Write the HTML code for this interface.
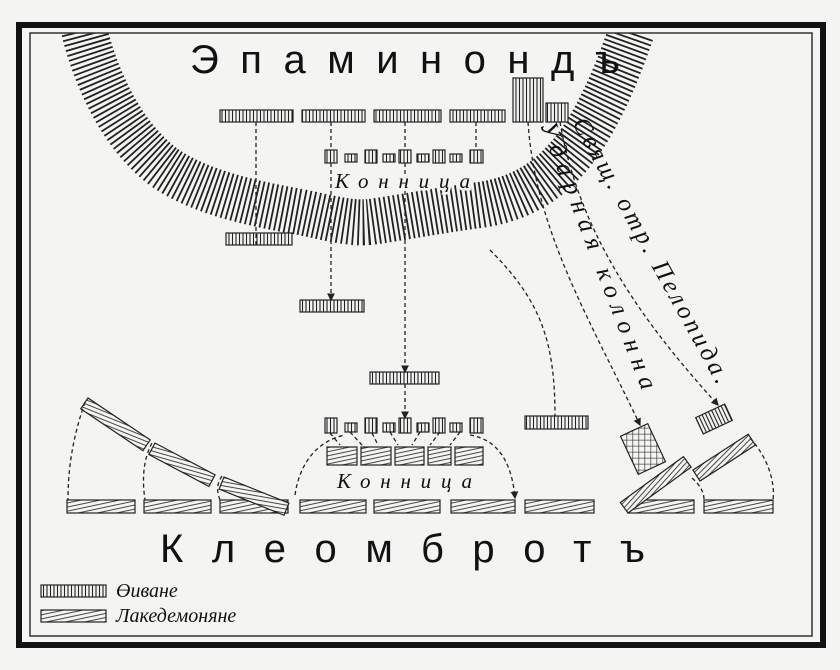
<!DOCTYPE html>
<html><head><meta charset="utf-8"><style>
html,body{margin:0;padding:0;background:#f4f4f2;}
svg{display:block}
text{font-family:"Liberation Sans","DejaVu Sans",sans-serif;fill:#111}
.it{font-family:"Liberation Serif","DejaVu Serif",serif;font-style:italic}
</style></head><body>
<svg width="840" height="670" viewBox="0 0 840 670" xmlns="http://www.w3.org/2000/svg">
<defs>
<pattern id="th" width="3.5" height="10" patternUnits="userSpaceOnUse"><rect width="3.5" height="10" fill="#f4f4f2"/><line x1="1.5" y1="0" x2="1.5" y2="10" stroke="#222" stroke-width="1.1"/></pattern>
<pattern id="sp" width="12" height="4" patternUnits="userSpaceOnUse" patternTransform="rotate(-12)"><rect width="12" height="4" fill="#f4f4f2"/><line x1="0" y1="2" x2="12" y2="2" stroke="#333" stroke-width="0.9"/></pattern>
<pattern id="grid" width="6" height="6" patternUnits="userSpaceOnUse" patternTransform="rotate(25)"><rect width="6" height="6" fill="#f4f4f2"/><path d="M0 0H6M0 0V6" stroke="#222" stroke-width="1.2"/></pattern>
<marker id="ar" markerWidth="6" markerHeight="6" refX="5" refY="3" orient="auto"><path d="M0,0 L6,3 L0,6 z" fill="#222"/></marker>
</defs>
<rect x="0" y="0" width="840" height="670" fill="#f4f4f2"/>
<!-- river -->
<path d="M84,30 C95,75 120,135 165,168 C200,192 250,203 300,212 C330,218 350,224 370,222 C400,218 440,210 480,205 C515,200 545,185 570,155 C595,125 615,80 632,30" fill="none" stroke="#222" stroke-width="46" stroke-dasharray="1.8 3"/>
<rect x="0" y="0" width="840" height="33" fill="#f4f4f2"/>
<rect x="19" y="25" width="804" height="620" fill="none" stroke="#111" stroke-width="6"/>
<rect x="30" y="33" width="782" height="603" fill="none" stroke="#333" stroke-width="1.5"/>
<text x="190" y="73" font-size="40" textLength="430" lengthAdjust="spacing">Эпаминондъ</text>
<text x="160" y="562" font-size="40" textLength="485" lengthAdjust="spacing">Клеомбротъ</text>
<!-- Theban units -->
<g fill="url(#th)" stroke="#222" stroke-width="1.2">
<rect x="220" y="110" width="73" height="12"/><rect x="302" y="110" width="63" height="12"/><rect x="374" y="110" width="67" height="12"/><rect x="450" y="110" width="55" height="12"/>
<rect x="513" y="78" width="30" height="44"/><rect x="546" y="103" width="22" height="19"/>
<rect x="226" y="233" width="66" height="12"/><rect x="300" y="300" width="64" height="12"/><rect x="370" y="372" width="69" height="12"/><rect x="525" y="416" width="63" height="13"/>
<rect x="325" y="150" width="12" height="13"/><rect x="345" y="154" width="12" height="8"/><rect x="365" y="150" width="12" height="13"/><rect x="383" y="154" width="12" height="8"/><rect x="399" y="150" width="12" height="13"/><rect x="417" y="154" width="12" height="8"/><rect x="433" y="150" width="12" height="13"/><rect x="450" y="154" width="12" height="8"/><rect x="470" y="150" width="13" height="13"/>
<rect x="325" y="418" width="12" height="15"/><rect x="345" y="423" width="12" height="9"/><rect x="365" y="418" width="12" height="15"/><rect x="383" y="423" width="12" height="9"/><rect x="399" y="418" width="12" height="15"/><rect x="417" y="423" width="12" height="9"/><rect x="433" y="418" width="12" height="15"/><rect x="450" y="423" width="12" height="9"/><rect x="470" y="418" width="13" height="15"/>
<rect x="698" y="410" width="32" height="18" transform="rotate(-25 714 419)"/>
<rect x="41" y="585" width="65" height="12"/>
</g>
<rect x="628" y="428" width="30" height="42" fill="url(#grid)" stroke="#222" stroke-width="1.2" transform="rotate(-25 643 449)"/>
<!-- Spartan -->
<g fill="url(#sp)" stroke="#222" stroke-width="1.2">
<rect x="67" y="500" width="68" height="13"/><rect x="144" y="500" width="67" height="13"/><rect x="220" y="500" width="68" height="13"/><rect x="300" y="500" width="66" height="13"/><rect x="374" y="500" width="66" height="13"/><rect x="451" y="500" width="64" height="13"/><rect x="525" y="500" width="69" height="13"/><rect x="628" y="500" width="66" height="13"/><rect x="704" y="500" width="69" height="13"/>
<rect x="327" y="447" width="30" height="18"/><rect x="361" y="447" width="30" height="18"/><rect x="395" y="447" width="29" height="18"/><rect x="428" y="447" width="23" height="18"/><rect x="455" y="447" width="28" height="18"/>
<rect x="88" y="398" width="75" height="13" transform="rotate(34 88 398)"/>
<rect x="155" y="443" width="68" height="13" transform="rotate(28 155 443)"/>
<rect x="224" y="477" width="70" height="13" transform="rotate(22 224 477)"/>
<rect x="628" y="500" width="78" height="13" transform="rotate(-36 628 513)"/>
<rect x="700" y="468" width="66" height="13" transform="rotate(-33 700 481)"/>
<rect x="41" y="610" width="65" height="12"/>
</g>
<!-- dashed movements -->
<g fill="none" stroke="#222" stroke-width="1.3" stroke-dasharray="4 3">
<path d="M256,122 V245"/><path d="M331,122 V150 M331,163 V300" marker-end="url(#ar)"/><path d="M405,122 V150 M405,163 V372" marker-end="url(#ar)"/><path d="M476,122 V150"/>
<path d="M405,384 V418" marker-end="url(#ar)"/>
<path d="M490,250 C540,300 555,340 555,416"/>
<path d="M528,122 C535,230 590,320 640,425" marker-end="url(#ar)"/>
<path d="M560,122 C580,240 650,330 718,405" marker-end="url(#ar)"/>
<path d="M85,402 C72,440 68,470 68,500"/><path d="M152,443 C143,460 142,480 145,500"/><path d="M222,476 C216,485 217,492 220,500"/>
<path d="M295,495 C300,460 320,440 345,435"/><path d="M470,435 C500,440 512,465 515,498" marker-end="url(#ar)"/>
<path d="M330,433 L340,445 M350,432 L362,445 M372,433 L378,445 M390,432 L398,445 M420,432 L412,445 M440,432 L430,445 M460,432 L450,445"/>
<path d="M692,478 C700,485 704,492 704,500"/><path d="M750,438 C770,460 775,485 773,500"/>
</g>
<text class="it" x="335" y="188" font-size="21" textLength="135" lengthAdjust="spacing" fill="#f4f4f2" stroke="#f4f4f2" stroke-width="5">Конница</text>
<text class="it" x="335" y="188" font-size="21" textLength="135" lengthAdjust="spacing">Конница</text>
<text class="it" x="337" y="488" font-size="21" textLength="135" lengthAdjust="spacing">Конница</text>
<text class="it" x="0" y="0" font-size="25" transform="translate(540,125) rotate(69)" textLength="285" lengthAdjust="spacing">Ударная колонна</text>
<text class="it" x="0" y="0" font-size="25" transform="translate(572,123) rotate(61)" textLength="300" lengthAdjust="spacing">Свящ. отр. Пелопида.</text>
<text class="it" x="116" y="597" font-size="20">Өиване</text>
<text class="it" x="116" y="622" font-size="20">Лакедемоняне</text>
</svg>
</body></html>
